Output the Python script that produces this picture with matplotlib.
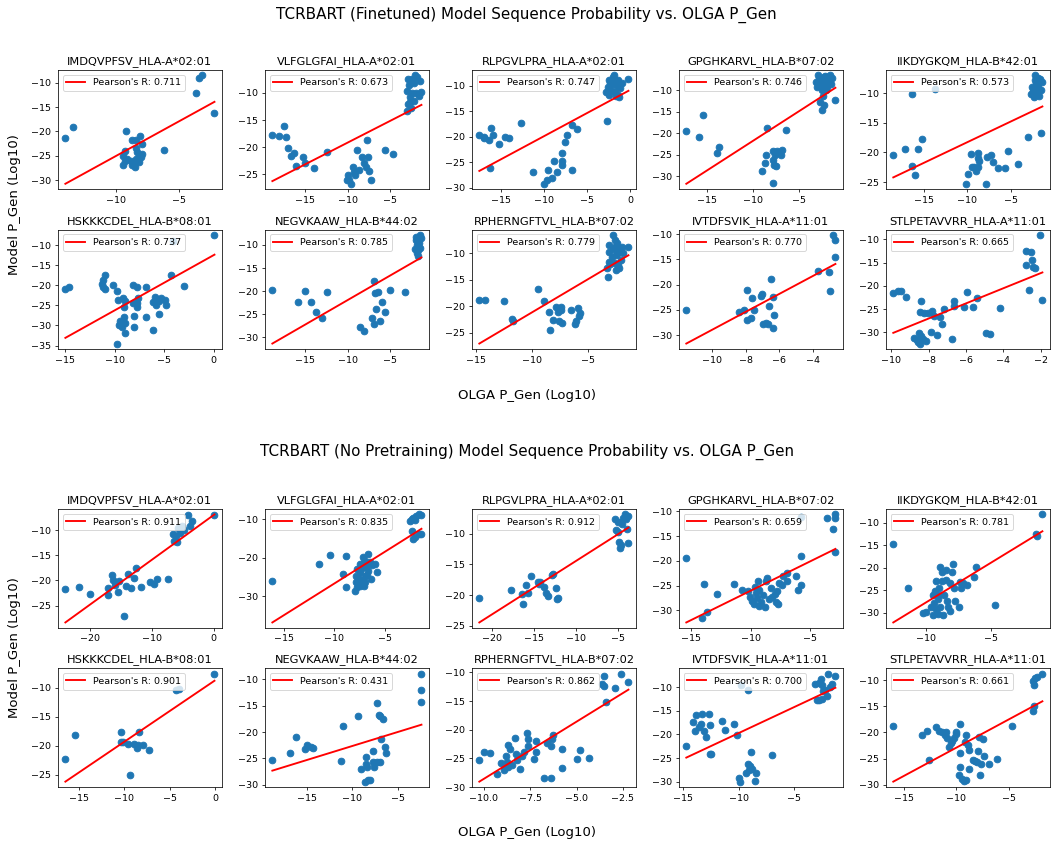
import numpy as np
import matplotlib.pyplot as plt
from matplotlib.ticker import MultipleLocator

# epitope / HLA pairs, same order in both model blocks
epitopes = [
    "IMDQVPFSV_HLA-A*02:01", "VLFGLGFAI_HLA-A*02:01", "RLPGVLPRA_HLA-A*02:01",
    "GPGHKARVL_HLA-B*07:02", "IIKDYGKQM_HLA-B*42:01", "HSKKKCDEL_HLA-B*08:01",
    "NEGVKAAW_HLA-B*44:02", "RPHERNGFTVL_HLA-B*07:02", "IVTDFSVIK_HLA-A*11:01",
    "STLPETAVVRR_HLA-A*11:01",
]

# Pearson's R per epitope
fine_r = [0.711, 0.673, 0.747, 0.746, 0.573, 0.737, 0.785, 0.779, 0.770, 0.665]
scratch_r = [0.911, 0.835, 0.912, 0.659, 0.781, 0.901, 0.431, 0.862, 0.700, 0.661]

# finetuned model: OLGA log10 P_gen (x) vs model log10 P_gen (y)
fine_olga = [
    [-14.0, -13.4, -9.2, -8.7, -8.4, -8.1, -7.9, -9.3, -9.4, -9.3, -9.4, -8.8, -8.7, -8.5, -8.4, -8.3,
     -8.2, -8.0, -7.9, -8.2, -8.4, -9.1, -8.55, -6.2, -3.7, -3.4, -3.2, -2.2],
    [-18.9, -18.1, -17.5, -17.3, -17.0, -16.7, -16.3, -16.1, -15.3, -15.1, -14.0, -12.4, -10.0, -9.9,
     -9.6, -9.4, -9.1, -8.9, -8.7, -8.3, -8.1, -7.9, -7.7, -7.6, -7.5, -7.3, -10.1, -9.3, -5.55, -4.6,
     -3.0, -2.9, -3.0, -2.9, -2.4, -2.1, -1.8, -1.5, -2.7, -2.4, -2.6, -2.0, -1.3, -2.2,
     -2.8, -2.2, -1.6, -2.5],
    [-17.5, -17.0, -16.9, -16.4, -16.2, -15.9, -15.2, -16.3, -14.5, -14.1, -12.7, -11.3, -10.0, -9.6,
     -9.1, -9.5, -8.8, -8.5, -7.9, -7.9, -7.9, -7.6, -7.3, -6.7, -6.2, -6.8, -2.7, -2.8, -2.5, -2.6,
     -2.3, -2.1, -1.8, -1.5, -1.4, -1.3, -1.0, -2.0, -1.7, -1.4, -0.2,
     -2.2, -1.9, -1.2, -2.4, -1.6],
    [-17.2, -15.8, -15.4, -13.9, -13.7, -9.0, -8.7, -8.4, -8.5, -7.8, -7.8, -7.7, -7.6, -7.4, -7.8,
     -7.5, -6.9, -6.8, -6.4, -3.1, -2.9, -2.7, -2.5, -2.4, -2.2, -2.0, -1.8, -1.6, -1.5, -2.5, -2.2,
     -2.7, -1.0, -3.0, -1.9, -2.5,
     -2.8, -2.3, -2.0, -1.7, -2.6, -1.4, -2.1],
    [-18.5, -17.1, -16.4, -16.4, -16.0, -15.6, -15.2, -13.7, -10.1, -9.9, -9.6, -9.5, -9.2, -8.8,
     -8.7, -8.65, -8.7, -9.0, -7.8, -7.7, -7.3, -7.0, -6.5, -5.6, -5.3, -4.1, -3.0, -1.5, -2.2, -1.9,
     -1.35, -2.1, -2.3, -1.85, -2.7, -2.0, -1.7, -1.5, -2.4, -2.2,
     -2.6, -1.8, -2.3, -1.6, -2.0],
    [-15.0, -14.6, -11.3, -11.2, -11.0, -11.2, -11.0, -10.2, -9.8, -9.7, -9.2, -9.0, -9.1, -9.1, -9.5,
     -9.6, -9.3, -9.0, -9.0, -9.8, -8.2, -8.2, -8.1, -8.1, -7.8, -7.8, -7.8, -7.7, -6.9, -6.8, -6.1,
     -6.1, -5.9, -5.8, -5.5, -5.5, -5.3, -4.9, -4.8, -4.3, -3.0, 0.07, -4.1],
    [-18.9, -15.9, -15.1, -14.3, -13.8, -13.0, -12.5, -8.5, -8.1, -7.1, -6.9, -6.9, -6.8, -6.7, -6.4,
     -6.2, -6.0, -5.6, -5.0, -3.3, -2.0, -1.8, -1.7, -1.7, -1.5, -1.3, -1.5, -1.8,
     -2.1, -1.6, -1.9],
    [-14.7, -14.2, -12.5, -11.8, -11.7, -9.5, -8.9, -8.5, -8.4, -7.9, -8.1, -7.7, -7.6, -7.4, -7.4,
     -7.3, -6.5, -6.2, -6.1, -5.9, -5.8, -5.7, -3.2, -3.3, -3.1, -3.1, -2.8, -2.6, -2.5, -2.4, -2.4,
     -2.2, -2.1, -2.8, -3.1, -2.5, -2.3, -2.0, -1.4, -2.9, -2.5,
     -2.7, -2.2, -1.9, -2.6, -3.0],
    [-11.5, -8.4, -8.1, -7.9, -7.9, -7.7, -7.6, -7.5, -7.1, -7.05, -7.0, -6.8, -6.7, -6.6, -6.5, -6.4,
     -6.4, -6.3, -3.75, -3.1, -3.0, -2.85, -2.7, -2.75],
    [-9.9, -9.64, -9.46, -9.2, -8.78, -8.64, -8.57, -8.5, -8.46, -8.4, -8.3, -8.15, -8.4, -8.46, -8.24,
     -8.06, -7.8, -7.7, -7.9, -7.56, -7.3, -7.4, -7.2, -6.66, -6.66, -6.77, -6.1, -5.95, -5.64, -5.4,
     -4.9, -4.7, -4.2, -2.77, -2.77, -2.5, -2.47, -2.4, -2.3, -2.6, -2.05, -1.9],
]
fine_model = [
    [-21.4, -19.0, -19.9, -21.7, -21.7, -20.9, -22.6, -24.0, -25.0, -26.0, -26.8, -26.0, -26.8, -27.3,
     -23.3, -24.3, -25.0, -25.3, -24.6, -26.3, -25.6, -25.6, -26.3, -23.8, -12.2, -9.0, -8.5, -16.3],
    [-17.8, -18.0, -16.0, -18.1, -20.1, -21.6, -21.1, -23.5, -21.75, -22.9, -23.8, -20.9, -25.2, -26.1,
     -26.75, -23.6, -25.2, -20.5, -24.2, -21.75, -23.0, -23.6, -18.6, -21.75, -24.4, -26.1, -26.1,
     -24.6, -20.5, -21.25, -13.3, -12.1, -9.6, -7.4, -7.4, -6.75, -7.1, -7.7, -10.8, -10.0, -11.75,
     -10.0, -9.9, -11.4,
     -8.5, -8.2, -10.5, -12.8],
    [-19.7, -20.3, -20.0, -20.6, -18.3, -19.7, -21.5, -26.1, -20.0, -20.3, -17.4, -26.9, -29.2, -28.4,
     -28.1, -26.6, -24.8, -26.8, -23.2, -24.8, -25.5, -21.1, -19.7, -17.7, -18.4, -26.5, -17.0, -11.3,
     -11.9, -10.3, -9.4, -9.7, -11.3, -10.0, -9.0, -12.3, -9.4, -8.4, -9.0, -11.8, -8.7,
     -10.8, -8.0, -10.5, -9.0, -12.0],
    [-19.4, -20.8, -15.8, -24.6, -23.1, -28.8, -26.9, -18.8, -25.0, -24.2, -26.2, -27.3, -25.0, -24.2,
     -31.5, -27.7, -25.0, -23.8, -19.2, -8.1, -6.5, -7.7, -10.0, -11.2, -6.9, -8.1, -7.3, -6.5, -8.5,
     -14.6, -13.5, -12.7, -12.3, -9.2, -9.2, -8.8,
     -7.0, -7.5, -9.8, -8.0, -8.3, -7.0, -6.6],
    [-20.4, -19.4, -10.2, -22.3, -23.8, -19.4, -17.8, -9.3, -25.3, -23.6, -20.2, -22.5, -22.5, -20.1,
     -20.9, -21.4, -22.4, -23.1, -25.3, -20.8, -20.4, -21.6, -22.7, -22.7, -19.8, -22.0, -17.4, -16.8,
     -7.0, -7.4, -8.2, -8.3, -9.1, -8.9, -10.1, -10.0, -10.5, -9.5, -9.7, -7.8,
     -9.0, -9.8, -10.6, -7.6, -8.6],
    [-20.8, -20.5, -19.6, -18.6, -17.3, -20.3, -20.9, -19.8, -21.3, -23.6, -23.2, -24.0, -25.5, -27.8,
     -28.8, -29.9, -30.5, -29.3, -31.8, -34.5, -19.8, -24.5, -27.6, -30.3, -20.5, -25.5, -24.3, -23.1,
     -20.5, -27.8, -24.2, -31.2, -22.9, -24.9, -27.1, -24.0, -23.2, -23.6, -24.9, -17.3, -20.1, -7.5,
     -8.9],
    [-19.8, -22.3, -20.0, -22.3, -24.6, -25.7, -20.2, -27.8, -28.7, -25.7, -17.8, -27.1, -20.3, -23.8,
     -20.2, -26.4, -22.3, -24.6, -19.8, -20.1, -9.0, -10.0, -11.0, -12.4, -7.9, -8.6, -10.6, -11.7,
     -10.8, -9.5, -8.2],
    [-18.9, -18.9, -19.1, -22.4, -22.8, -16.8, -19.1, -21.0, -24.4, -20.1, -22.6, -21.0, -22.8, -20.7,
     -20.1, -23.2, -20.7, -23.3, -22.8, -20.4, -21.8, -21.3, -14.5, -12.8, -11.6, -8.4, -6.6, -7.5,
     -8.6, -8.1, -10.1, -12.8, -11.3, -9.2, -9.8, -13.1, -12.2, -8.9, -8.9, -10.7, -10.4,
     -9.0, -9.6, -10.0, -11.8, -12.0],
    [-25.1, -25.3, -25.1, -21.1, -26.9, -26.5, -22.7, -25.0, -22.2, -21.8, -27.7, -27.5, -27.8, -24.3,
     -18.9, -22.5, -28.5, -26.0, -17.3, -17.4, -21.2, -10.2, -11.2, -14.6],
    [-21.6, -21.2, -21.2, -22.3, -31.1, -31.7, -32.0, -30.2, -32.4, -30.8, -31.5, -31.8, -23.2, -25.7,
     -25.9, -25.9, -25.5, -26.5, -29.9, -30.6, -28.2, -26.6, -25.0, -23.2, -24.4, -31.5, -24.6, -21.4,
     -24.6, -22.6, -30.2, -30.4, -24.8, -12.4, -15.6, -12.7, -14.5, -15.9, -16.1, -20.8, -9.1, -23.1],
]

# model trained without pretraining
scratch_olga = [
    [-23.9, -21.7, -19.9, -17.1, -17.0, -16.4, -16.3, -15.9, -15.4, -15.2, -14.4, -13.8, -14.2, -13.4,
     -12.9, -12.5, -11.7, -10.3, -9.7, -9.1, -7.3, -6.6, -6.4, -6.0, -6.1, -5.7, -5.4, -5.1, -4.8,
     -4.2, -3.5, -3.8, 0.1],
    [-16.1, -11.5, -10.4, -8.8, -9.1, -8.8, -8.0, -7.9, -7.7, -7.5, -7.4, -7.2, -7.1, -7.0, -6.9, -6.7,
     -6.7, -6.5, -6.4, -6.3, -6.0, -5.8, -7.8, -7.5, -7.1, -7.6, -7.3, -7.0, -6.8, -7.9, -7.45, -7.8,
     -7.0, -2.5, -2.35, -2.2, -2.0, -1.9, -1.6, -1.4, -2.35, -2.2, -1.6, -1.4, -2.0],
    [-21.5, -17.7, -16.3, -16.4, -15.9, -15.7, -15.3, -14.5, -14.4, -14.2, -13.8, -13.6, -13.3, -12.8,
     -12.7, -12.4, -12.1, -12.25, -5.3, -5.0, -5.2, -4.9, -4.8, -4.7, -4.6, -4.5, -4.4, -4.1, -4.0,
     -3.9, -3.8, -3.7],
    [-15.4, -14.1, -13.7, -13.9, -12.8, -11.4, -10.7, -10.2, -10.1, -9.9, -9.75, -9.6, -9.5, -9.3,
     -9.3, -9.1, -8.95, -8.8, -8.7, -8.6, -8.5, -8.3, -8.2, -8.0, -7.9, -7.8, -7.7, -7.6, -7.4, -7.3,
     -7.0, -6.95, -6.2, -6.0, -5.8, -5.8, -5.8, -3.6, -3.1, -2.9, -2.9, -2.9, -9.4, -9.55],
    [-12.5, -11.35, -10.2, -10.0, -9.6, -9.5, -9.4, -9.3, -9.2, -9.1, -9.1, -9.0, -8.9, -8.9, -8.8,
     -8.8, -8.7, -8.6, -8.5, -8.45, -8.4, -8.3, -8.2, -8.15, -8.0, -7.95, -7.85, -7.8, -7.5, -7.4,
     -7.3, -7.2, -6.9, -6.35, -6.2, -4.7, -1.6, -1.55, -1.1, -9.5, -9.26, -9.1],
    [-16.5, -15.4, -10.4, -10.4, -10.1, -9.6, -9.4, -8.9, -8.6, -8.4, -8.5, -8.0, -7.3, -4.3, -4.0,
     -0.07],
    [-18.8, -16.9, -16.25, -15.2, -15.0, -14.6, -14.3, -11.3, -11.0, -9.4, -9.1, -8.5, -8.5, -8.4,
     -8.6, -8.3, -8.1, -7.75, -7.7, -7.6, -7.3, -7.0, -7.25, -7.1, -7.0, -6.8, -6.6, -6.4, -6.3, -2.4,
     -2.4, -2.4],
    [-10.25, -10.0, -9.7, -9.3, -9.1, -8.9, -8.8, -8.7, -8.6, -8.7, -8.5, -8.35, -8.25, -8.2, -8.05,
     -7.95, -7.85, -7.7, -7.6, -7.6, -7.3, -7.2, -7.2, -6.75, -6.6, -6.4, -6.4, -6.3, -6.25, -5.8,
     -5.8, -5.0, -4.8, -4.35, -3.6, -3.5, -3.5, -3.4, -2.9, -2.6, -2.2, -8.85, -8.75],
    [-14.7, -14.1, -13.9, -13.8, -13.6, -13.4, -13.25, -13.1, -12.9, -12.7, -12.6, -12.6, -12.5,
     -11.5, -11.2, -10.45, -10.1, -9.8, -9.2, -10.0, -9.9, -9.3, -9.2, -9.1, -9.0, -8.9, -8.8, -8.5,
     -8.4, -7.0, -3.15, -2.8, -2.6, -2.5, -2.4, -2.2, -2.1, -2.5, -2.8, -2.95, -1.95, -1.8, -1.6,
     -1.3],
    [-16.0, -13.3, -12.8, -12.6, -11.9, -11.6, -11.4, -11.1, -11.0, -10.9, -10.7, -10.55, -10.4,
     -10.25, -10.06, -10.0, -9.6, -9.6, -9.6, -9.7, -9.45, -9.3, -9.1, -9.2, -9.1, -8.9, -8.8, -8.75,
     -8.45, -8.2, -8.0, -7.9, -7.8, -7.7, -7.6, -7.5, -7.4, -6.9, -6.1, -4.7, -2.7, -2.6, -2.6, -2.7,
     -2.5, -2.3, -1.8],
]
scratch_model = [
    [-21.8, -21.3, -22.8, -21.6, -23.0, -18.9, -20.0, -21.0, -22.3, -20.2, -27.1, -18.8, -21.1, -21.5,
     -19.5, -17.6, -21.3, -20.4, -20.8, -19.8, -19.8, -10.7, -12.2, -12.4, -11.2, -9.5, -10.5, -9.2,
     -9.9, -7.0, -8.3, -9.2, -7.0],
    [-26.0, -21.6, -19.2, -19.5, -24.2, -27.5, -28.6, -26.4, -25.0, -23.8, -22.8, -19.7, -21.0, -24.6,
     -22.4, -18.9, -23.5, -21.2, -25.5, -21.9, -21.5, -23.8, -27.7, -27.2, -27.2, -26.2, -25.7, -26.4,
     -24.4, -24.6, -21.5, -22.8, -20.8, -10.4, -9.9, -9.6, -10.2, -9.0, -8.7, -8.9, -13.1, -15.2,
     -13.7, -13.7, -14.6],
    [-20.5, -19.2, -21.4, -19.8, -18.3, -19.6, -16.9, -17.8, -18.2, -17.9, -18.6, -19.7, -20.1, -16.7,
     -16.6, -18.9, -20.4, -20.6, -7.7, -8.2, -9.5, -9.8, -11.3, -12.3, -11.8, -8.5, -7.4, -6.9, -7.7,
     -9.3, -11.5, -7.1],
    [-19.5, -31.6, -30.4, -24.6, -26.8, -24.6, -25.9, -26.2, -27.3, -28.2, -28.7, -25.2, -27.6, -29.1,
     -25.9, -28.4, -26.9, -29.4, -24.1, -23.5, -27.7, -25.5, -27.3, -26.8, -28.4, -26.1, -28.7, -24.4,
     -24.9, -23.0, -22.5, -24.1, -23.0, -25.9, -19.1, -24.8, -11.1, -11.3, -13.6, -11.3, -10.6, -18.3,
     -24.1, -26.6],
    [-14.8, -24.4, -30.1, -29.9, -28.8, -30.4, -27.9, -25.2, -23.0, -26.0, -27.0, -24.5, -28.8, -19.9,
     -21.0, -23.0, -30.4, -26.0, -20.6, -22.8, -27.4, -28.7, -29.6, -23.5, -21.0, -19.2, -24.5, -27.4,
     -28.7, -23.1, -24.5, -23.5, -23.8, -22.1, -19.8, -28.2, -12.6, -13.0, -8.2, -26.0, -29.1, -30.2],
    [-22.4, -18.1, -17.6, -19.4, -19.4, -19.7, -25.0, -19.7, -20.4, -17.6, -19.9, -19.9, -20.7, -10.5,
     -10.3, -7.6],
    [-25.25, -23.9, -20.9, -23.2, -22.5, -22.8, -23.0, -25.4, -18.9, -17.0, -27.0, -24.7, -26.0, -26.6,
     -29.4, -29.0, -29.0, -23.5, -25.7, -26.6, -25.6, -25.6, -14.5, -16.7, -17.0, -21.3, -17.5, -22.8,
     -23.9, -8.9, -12.1, -14.3],
    [-25.2, -23.9, -24.1, -27.8, -25.8, -27.1, -24.5, -22.6, -23.3, -26.5, -26.2, -21.4, -24.2, -25.2,
     -26.9, -24.5, -23.9, -20.6, -21.6, -22.9, -25.1, -21.9, -23.9, -28.4, -22.3, -22.9, -28.4, -21.6,
     -21.0, -26.6, -23.3, -25.1, -23.6, -24.9, -12.0, -12.3, -10.6, -15.2, -12.7, -10.2, -11.6, -26.5,
     -25.6],
    [-22.4, -17.4, -19.35, -15.9, -18.5, -17.8, -15.75, -19.2, -20.6, -15.75, -17.9, -24.2, -24.2,
     -17.05, -19.0, -17.8, -20.1, -9.6, -10.6, -29.3, -30.0, -28.1, -26.2, -27.6, -26.7, -23.8, -27.3,
     -29.8, -28.1, -24.4, -9.3, -9.1, -8.2, -9.6, -10.7, -10.6, -11.8, -12.5, -12.7, -12.7, -7.1,
     -10.0, -9.3, -7.7],
    [-18.7, -20.5, -19.8, -25.2, -18.9, -19.7, -20.0, -20.5, -20.0, -21.0, -22.75, -22.1, -21.65,
     -21.1, -20.35, -20.0, -18.4, -24.0, -26.6, -28.25, -28.9, -29.4, -29.2, -21.9, -20.5, -22.4,
     -23.4, -27.1, -25.3, -25.5, -25.7, -23.6, -20.8, -28.1, -26.0, -21.3, -24.5, -26.0, -25.1, -18.7,
     -15.8, -15.0, -10.9, -10.1, -9.6, -9.35, -8.7],
]

# x tick spacing where the default locator is not used
fine_xstep = [None] * 10
scratch_xstep = [None, None, None, None, None, None, None, 2.5, None, None]

DPI = 68
fig = plt.figure(figsize=(1053 / DPI, 846 / DPI), dpi=DPI)


def draw_block(olga, model, rvals, xstep, top, bottom, title, title_y, xlab_y, ylab_y):
    gs = fig.add_gridspec(2, 5, left=0.055, right=0.997, top=top, bottom=bottom,
                          wspace=0.262, hspace=0.34)
    for i, name in enumerate(epitopes):
        ax = fig.add_subplot(gs[i // 5, i % 5])
        x = np.array(olga[i])
        y = np.array(model[i])
        ax.scatter(x, y, s=50)
        # least squares line from the reported R: slope = r * sy / sx
        slope = rvals[i] * y.std() / x.std()
        icpt = y.mean() - slope * x.mean()
        xs = np.sort(x)
        ax.plot(xs, slope * xs + icpt, color='red', lw=2,
                label="Pearson's R: %.3f" % rvals[i])
        if xstep[i]:
            ax.xaxis.set_major_locator(MultipleLocator(xstep[i]))
        ax.set_title(name)
        ax.legend(loc='upper left')
    fig.text(0.5, title_y, title, ha='center', va='center', fontsize=16)
    fig.text(0.5, xlab_y, 'OLGA P_Gen (Log10)', ha='center', va='center', fontsize=14)
    fig.text(0.014, ylab_y, 'Model P_Gen (Log10)', ha='center', va='center',
             rotation=90, fontsize=14)


draw_block(fine_olga, fine_model, fine_r, fine_xstep, 0.9173, 0.5875,
           'TCRBART (Finetuned) Model Sequence Probability vs. OLGA P_Gen', 0.982, 0.533, 0.758)
draw_block(scratch_olga, scratch_model, scratch_r, scratch_xstep, 0.3983, 0.0697,
           'TCRBART (No Pretraining) Model Sequence Probability vs. OLGA P_Gen', 0.4657, 0.0165, 0.235)

fig.savefig('out.png', dpi=DPI)
